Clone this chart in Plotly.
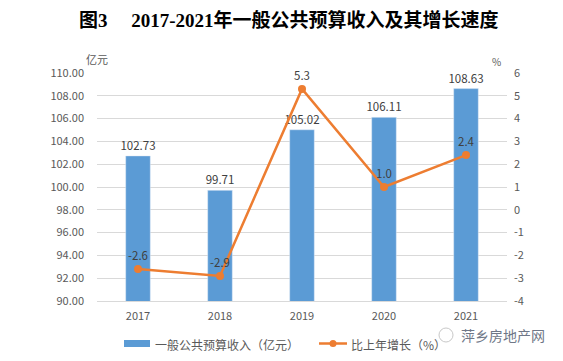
import plotly.graph_objects as go

years = ["2017", "2018", "2019", "2020", "2021"]
revenue = [102.73, 99.71, 105.02, 106.11, 108.63]
growth = [-2.6, -2.9, 5.3, 1.0, 2.4]
left_ticks = [90, 92, 94, 96, 98, 100, 102, 104, 106, 108, 110]
right_ticks = [-4, -3, -2, -1, 0, 1, 2, 3, 4, 5, 6]

BLUE = "#5B9BD5"
ORANGE = "#ED7D31"
TXT = "#595959"
FONT = "Noto Sans CJK SC"
TFONT = "Liberation Serif, Noto Sans CJK SC"

# the page draws the figure offset by the default 8px body margin
OFF = 8
W, H = 563 - OFF, 361 - OFF
ML, MT = 97 - OFF, 73 - OFF
MR = W - (507 - OFF)
MB = H - (301 - OFF)
PW = W - ML - MR
PH = H - MT - MB


def px(x):
    return (x - OFF - ML) / PW


def py(y):
    return 1 - (y - OFF - MT) / PH


fig = go.Figure()
fig.add_trace(go.Bar(
    x=years, y=revenue, name="一般公共预算收入（亿元）",
    marker=dict(color=BLUE), width=0.3,
    text=[f"{v:.2f}" for v in revenue], textposition="outside",
    constraintext="none",
    textfont=dict(size=11.5, color="#404040"), cliponaxis=False,
))
fig.add_trace(go.Scatter(
    x=years, y=growth, name="比上年增长（%）", yaxis="y2",
    mode="lines+markers+text",
    line=dict(color=ORANGE, width=2.5),
    marker=dict(color=ORANGE, size=8),
    text=[f"{v:.1f}" for v in growth], textposition="top center",
    textfont=dict(size=11.5, color="#404040"), cliponaxis=False,
))

shapes = [
    # legend symbols
    dict(type="rect", xref="paper", yref="paper", x0=px(124), x1=px(150), y0=py(347), y1=py(340),
         fillcolor=BLUE, line=dict(width=0)),
    dict(type="line", xref="paper", yref="paper", x0=px(319), x1=px(347), y0=py(343.5), y1=py(343.5),
         line=dict(color=ORANGE, width=2.5)),
    dict(type="circle", xref="paper", yref="paper", x0=px(329.5), x1=px(336.5), y0=py(347), y1=py(340),
         fillcolor=ORANGE, line=dict(width=0)),
    # watermark icon
    dict(type="circle", xref="paper", yref="paper", x0=px(439), x1=px(453), y0=py(342), y1=py(328),
         line=dict(color="#c8c8c8", width=1)),
    # right frame line
    dict(type="line", xref="paper", yref="paper", x0=px(562), x1=px(562), y0=py(0), y1=py(361),
         line=dict(color="#d0d0d0", width=1)),
]

annotations = [
    dict(text="<b>图3　 2017-2021年一般公共预算收入及其增长速度</b>",
         x=px(289), y=py(20), xanchor="center", yanchor="middle",
         font=dict(size=19, color="#000000", family=TFONT)),
    dict(text="亿元", x=px(97), y=py(59), xanchor="center", yanchor="middle",
         font=dict(size=11, color=TXT)),
    dict(text="%", x=px(496), y=py(62), xanchor="center", yanchor="middle",
         font=dict(size=10, color=TXT)),
    dict(text="一般公共预算收入（亿元）", x=px(153), y=py(344), xanchor="left", yanchor="middle",
         font=dict(size=12, color=TXT)),
    dict(text="比上年增长（%）", x=px(349), y=py(344), xanchor="left", yanchor="middle",
         font=dict(size=12, color=TXT)),
    dict(text="萍乡房地产网", x=px(503), y=py(335), xanchor="center", yanchor="middle",
         font=dict(size=14, color="#6f7787")),
]
for a in annotations:
    a.update(xref="paper", yref="paper", showarrow=False)

fig.update_layout(
    width=W, height=H,
    margin=dict(l=ML, r=MR, t=MT, b=MB, autoexpand=False),
    paper_bgcolor="white", plot_bgcolor="white",
    font=dict(family=FONT, size=11, color=TXT),
    showlegend=False,
    bargap=0.7,
    xaxis=dict(showgrid=False, showline=True, linecolor="#d9d9d9", ticks="",
               ticklabelstandoff=5,
               tickfont=dict(size=11, color=TXT)),
    yaxis=dict(range=[90, 110], tickvals=left_ticks,
               ticktext=[f"{v:.2f}" for v in left_ticks],
               showgrid=True, gridcolor="#d9d9d9", zeroline=False,
               ticklabelstandoff=12,
               tickfont=dict(size=11, color=TXT), ticks=""),
    yaxis2=dict(range=[-4, 6], tickvals=right_ticks,
                ticktext=[str(v) for v in right_ticks],
                overlaying="y", side="right",
                showgrid=False, zeroline=False,
                ticklabelstandoff=6,
                tickfont=dict(size=11, color=TXT), ticks=""),
    shapes=shapes,
    annotations=annotations,
)

fig.write_html("out.html")
